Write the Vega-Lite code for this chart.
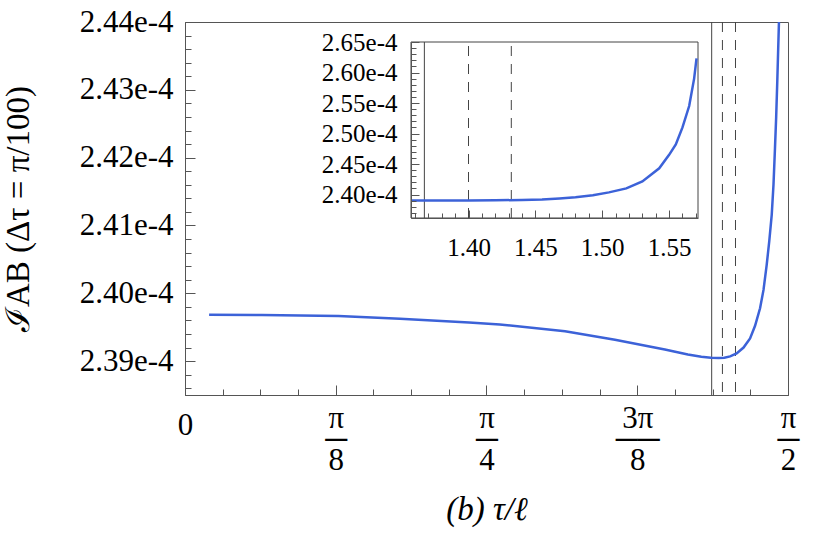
{
  "$schema": "https://vega.github.io/schema/vega-lite/v6.json",
  "width": 603,
  "height": 373,
  "autosize": {"type": "none"},
  "padding": {"left": 185, "top": 22, "right": 26, "bottom": 158},
  "background": "white",
  "config": {
    "view": {"stroke": "#555", "strokeWidth": 1},
    "font": "Liberation Serif",
    "axis": {
      "grid": false,
      "domainColor": "#555",
      "tickColor": "#555",
      "labelColor": "#000",
      "titleColor": "#000",
      "labelFont": "Liberation Serif",
      "titleFont": "Liberation Serif",
      "titleFontWeight": "normal",
      "labelFlush": false,
      "labelOverlap": false,
      "labelBound": false
    }
  },
  "datasets": {
    "main": [
      {"t": 0.0628, "I": 0.000239683},
      {"t": 0.2, "I": 0.00023968},
      {"t": 0.4, "I": 0.000239664},
      {"t": 0.56, "I": 0.000239625},
      {"t": 0.74, "I": 0.000239568},
      {"t": 0.82, "I": 0.00023954},
      {"t": 0.99, "I": 0.00023944},
      {"t": 1.12, "I": 0.000239315},
      {"t": 1.25, "I": 0.00023917},
      {"t": 1.31, "I": 0.000239098},
      {"t": 1.345, "I": 0.000239063},
      {"t": 1.37, "I": 0.000239048},
      {"t": 1.39, "I": 0.000239045},
      {"t": 1.405, "I": 0.00023905},
      {"t": 1.42, "I": 0.00023907},
      {"t": 1.437, "I": 0.000239114},
      {"t": 1.455, "I": 0.0002392},
      {"t": 1.472, "I": 0.000239335},
      {"t": 1.485, "I": 0.00023952},
      {"t": 1.498, "I": 0.000239778},
      {"t": 1.507, "I": 0.00024005},
      {"t": 1.5153, "I": 0.000240418},
      {"t": 1.522, "I": 0.00024077},
      {"t": 1.5284, "I": 0.000241157},
      {"t": 1.533, "I": 0.0002416},
      {"t": 1.5369, "I": 0.000242142},
      {"t": 1.54, "I": 0.0002426},
      {"t": 1.5429, "I": 0.000243126},
      {"t": 1.5473, "I": 0.000244012},
      {"t": 1.55, "I": 0.00024460}
    ],
    "inset": [
      {"t": 1.357, "I": 0.00023902},
      {"t": 1.38, "I": 0.00023902},
      {"t": 1.40, "I": 0.00023903},
      {"t": 1.42, "I": 0.00023906},
      {"t": 1.44, "I": 0.0002391},
      {"t": 1.455, "I": 0.00023918},
      {"t": 1.468, "I": 0.00023935},
      {"t": 1.48, "I": 0.00023955},
      {"t": 1.493, "I": 0.00023989},
      {"t": 1.505, "I": 0.00024035},
      {"t": 1.518, "I": 0.000241},
      {"t": 1.53, "I": 0.00024215},
      {"t": 1.5426, "I": 0.000244300},
      {"t": 1.55, "I": 0.0002465},
      {"t": 1.555, "I": 0.0002482},
      {"t": 1.56, "I": 0.000251},
      {"t": 1.565, "I": 0.0002545},
      {"t": 1.5687, "I": 0.000259},
      {"t": 1.5705, "I": 0.0002623}
    ],
    "mainRules": [
      {"t": 1.372, "kind": "solid"},
      {"t": 1.40, "kind": "dashed"},
      {"t": 1.434, "kind": "dashed"}
    ],
    "insetRules": [
      {"t": 1.367, "kind": "solid"},
      {"t": 1.40, "kind": "dashed"},
      {"t": 1.432, "kind": "dashed"}
    ],
    "insetFrame": [
      {"t0": 1.357, "t1": 1.5716, "v0": 0.00023615, "v1": 0.000265}
    ]
  },
  "layer": [
    {
      "layer": [
        {
          "data": {"name": "mainRules"},
          "mark": {"type": "rule", "color": "#444", "strokeWidth": 1},
          "encoding": {
            "x": {
              "field": "t",
              "type": "quantitative",
              "axis": {
                "orient": "bottom",
                "title": null,
                "labels": false,
                "domain": false,
                "tickSize": -6,
                "values": [0.09817477, 0.19634954, 0.29452431, 0.49087385, 0.58904862, 0.68722339, 0.88357293, 0.9817477, 1.07992247, 1.27627202, 1.37444679, 1.47262156]
              }
            },
            "strokeDash": {
              "field": "kind",
              "type": "nominal",
              "scale": {"domain": ["solid", "dashed"], "range": [[1, 0], [10, 8]]},
              "legend": null
            }
          }
        },
        {
          "data": {"name": "main"},
          "mark": {"type": "line", "clip": true, "strokeOpacity": 0},
          "encoding": {
            "x": {"field": "t", "type": "quantitative", "axis": null},
            "y": {
              "field": "I",
              "type": "quantitative",
              "axis": {
                "orient": "left",
                "title": null,
                "labels": false,
                "domain": false,
                "tickSize": -6,
                "values": [0.0002386, 0.0002388, 0.0002392, 0.0002394, 0.0002396, 0.0002398, 0.0002402, 0.0002404, 0.0002406, 0.0002408, 0.0002412, 0.0002414, 0.0002416, 0.0002418, 0.0002422, 0.0002424, 0.0002426, 0.0002428, 0.0002432, 0.0002434, 0.0002436, 0.0002438]
              }
            }
          }
        },
        {
          "data": {"name": "main"},
          "mark": {"type": "line", "clip": true, "color": "#3c62d8", "strokeWidth": 2.5},
          "encoding": {
            "x": {
              "field": "t",
              "type": "quantitative",
              "scale": {"domain": [0, 1.5708], "nice": false, "zero": false},
              "axis": {
                "orient": "bottom",
                "title": "(b) τ/ℓ",
                "titleFontSize": 33,
                "titleFontStyle": "italic",
                "titlePadding": 18,
                "labelOverlap": false,
                "labelFlush": false,
                "labelBound": false,
                "values": [0, 0.39269908, 0.78539816, 1.17809725, 1.5707963],
                "labelExpr": "round(datum.value*8/PI) == 0 ? '0' : (round(datum.value*8/PI) == 1 ? ['π','─','8'] : (round(datum.value*8/PI) == 2 ? ['π','─','4'] : (round(datum.value*8/PI) == 3 ? ['3π','──','8'] : ['π','─','2'])))",
                "labelFontSize": 31,
                "labelLineHeight": 21,
                "labelBaseline": "top",
                "labelPadding": {"condition": {"test": "datum.value < 0.01", "value": 25}, "value": 18},
                "tickSize": -10
              }
            },
            "y": {
              "field": "I",
              "type": "quantitative",
              "scale": {"domain": [0.0002385, 0.000244], "nice": false, "zero": false},
              "axis": {
                "orient": "left",
                "title": "ℐAB (Δτ = π/100)",
                "titleFontSize": 33,
                "titlePadding": 44,
                "labelOverlap": false,
                "labelBound": false,
                "values": [0.000239, 0.00024, 0.000241, 0.000242, 0.000243, 0.000244],
                "labelExpr": "format(datum.value*1e4, '.2f') + 'e-4'",
                "labelFontSize": 31,
                "labelPadding": 22,
                "tickSize": -10
              }
            }
          }
        }
      ],
      "resolve": {"axis": {"x": "independent", "y": "independent"}}
    },
    {
      "layer": [
        {
          "data": {"name": "insetFrame"},
          "mark": {"type": "rect", "fill": null, "fillOpacity": 0, "stroke": "#444", "strokeWidth": 1},
          "encoding": {
            "x": {"field": "t0", "type": "quantitative", "axis": null},
            "x2": {"field": "t1"},
            "y": {"field": "v0", "type": "quantitative", "axis": null},
            "y2": {"field": "v1"}
          }
        },
        {
          "data": {"name": "insetRules"},
          "mark": {"type": "rule", "color": "#444", "strokeWidth": 1},
          "encoding": {
            "x": {"field": "t", "type": "quantitative", "axis": null},
            "y": {"datum": 0.00023615, "type": "quantitative", "axis": null},
            "y2": {"datum": 0.000265},
            "strokeDash": {
              "field": "kind",
              "type": "nominal",
              "scale": {"domain": ["solid", "dashed"], "range": [[1, 0], [10, 8]]},
              "legend": null
            }
          }
        },
        {
          "data": {"name": "inset"},
          "mark": {"type": "line", "strokeOpacity": 0},
          "encoding": {
            "x": {
              "field": "t",
              "type": "quantitative",
              "axis": {
                "orient": "bottom",
                "offset": -177,
                "zindex": 1,
                "title": null,
                "labels": false,
                "domain": false,
                "tickSize": -5,
                "values": [1.36, 1.37, 1.38, 1.39, 1.41, 1.42, 1.43, 1.44, 1.46, 1.47, 1.48, 1.49, 1.51, 1.52, 1.53, 1.54, 1.56, 1.57]
              }
            },
            "y": {
              "field": "I",
              "type": "quantitative",
              "axis": {
                "orient": "left",
                "offset": -226,
                "zindex": 1,
                "title": null,
                "labels": false,
                "domain": false,
                "tickSize": -5,
                "values": [0.000237, 0.000238, 0.000239, 0.000241, 0.000242, 0.000243, 0.000244, 0.000246, 0.000247, 0.000248, 0.000249, 0.000251, 0.000252, 0.000253, 0.000254, 0.000256, 0.000257, 0.000258, 0.000259, 0.000261, 0.000262, 0.000263, 0.000264]
              }
            }
          }
        },
        {
          "data": {"name": "inset"},
          "mark": {"type": "line", "color": "#3c62d8", "strokeWidth": 2.5},
          "encoding": {
            "x": {
              "field": "t",
              "type": "quantitative",
              "scale": {"domain": [1.357, 1.5716], "range": [226, 513], "nice": false, "zero": false},
              "axis": {
                "title": null,
                "orient": "bottom",
                "offset": -177,
                "zindex": 1,
                "labelOverlap": false,
                "labelFlush": false,
                "labelBound": false,
                "values": [1.4, 1.45, 1.5, 1.55],
                "format": ".2f",
                "labelFontSize": 25,
                "labelBaseline": "top",
                "labelPadding": 25,
                "tickSize": -8
              }
            },
            "y": {
              "field": "I",
              "type": "quantitative",
              "scale": {"domain": [0.00023615, 0.000265], "range": [196, 20], "nice": false, "zero": false},
              "axis": {
                "title": null,
                "orient": "left",
                "offset": -226,
                "zindex": 1,
                "labelOverlap": false,
                "labelBound": false,
                "values": [0.00024, 0.000245, 0.00025, 0.000255, 0.00026, 0.000265],
                "labelExpr": "format(datum.value*1e4, '.2f') + 'e-4'",
                "labelFontSize": 25,
                "labelPadding": 22,
                "tickSize": -8
              }
            }
          }
        }
      ],
      "resolve": {"axis": {"x": "independent", "y": "independent"}}
    }
  ],
  "resolve": {
    "scale": {"x": "independent", "y": "independent", "strokeDash": "shared"},
    "axis": {"x": "independent", "y": "independent"}
  }
}
